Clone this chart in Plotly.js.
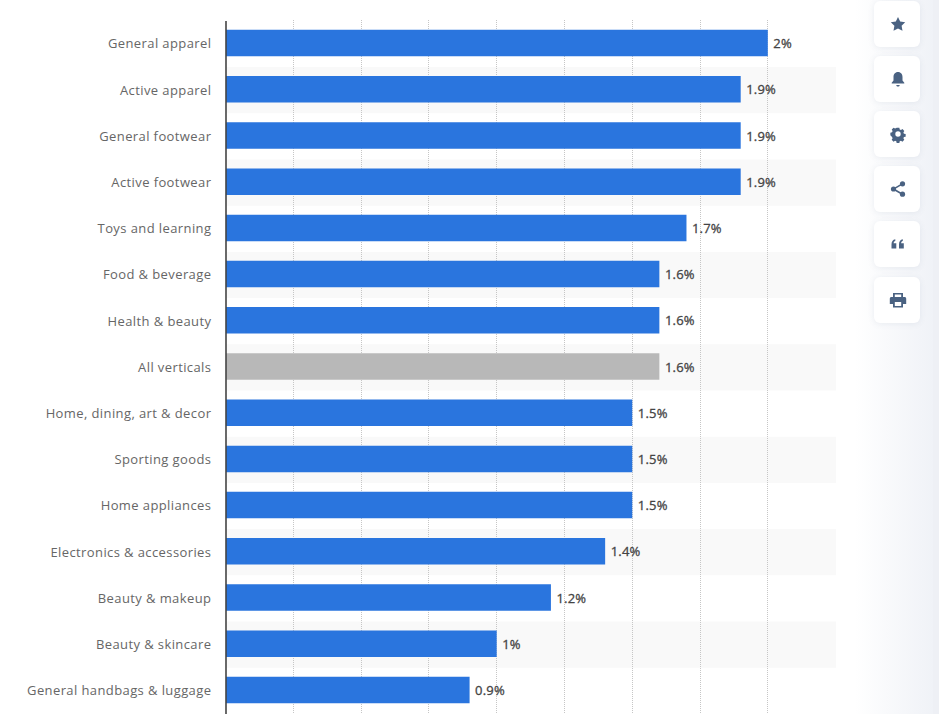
<!DOCTYPE html>
<html>
<head>
<meta charset="utf-8">
<script src="https://cdn.plot.ly/plotly-3.0.1.min.js"></script>
<style>
html,body{margin:0;padding:0;background:#fff;width:939px;height:714px;overflow:hidden}
#chart{position:absolute;left:0;top:0;width:939px;height:714px}
#rail{position:absolute;left:855px;top:0;width:78px;height:714px;background:linear-gradient(to right,rgba(236,239,245,0),rgba(236,239,245,.8) 100%)}
#edge{position:absolute;left:933px;top:0;width:6px;height:714px;background:#eef0f5}
.card{position:absolute;left:874px;width:46px;height:46px;background:#fff;border-radius:6px;box-shadow:0 1px 6px rgba(90,110,140,.10)}
.card svg{position:absolute;left:14px;top:13px;width:20px;height:20px;fill:#4a6282}
.ytick text{letter-spacing:.4px}
text.bartext{letter-spacing:.2px;stroke:#444;stroke-width:.3px}
</style>
</head>
<body>
<div id="chart"></div>
<div id="rail"></div><div id="edge"></div>
<div class="card" style="top:1px"><svg viewBox="0 0 20 20"><path d="M10 3l2.200 4.600 5 .7-3.600 3.500.9 5L10 14.400l-4.500 2.400.9-5L2.800 8.300l5-.7z"/></svg></div>
<div class="card" style="top:56px"><svg viewBox="0 0 20 20"><path d="M10 3c3 0 4.500 2.400 4.500 5v3.500l1.800 2.300v.7H3.700v-.7l1.800-2.300V8c0-2.600 1.500-5 4.500-5zM8.300 16h3.400c0 1-.8 1.500-1.700 1.500S8.300 17 8.300 16z"/></svg></div>
<div class="card" style="top:111px"><svg viewBox="0 0 20 20"><path fill-rule="evenodd" d="M8.500 3h3l.4 1.900 1.400.6 1.700-1 2 2.100-1 1.600.6 1.400 1.900.4v3l-1.900.4-.6 1.400 1 1.700-2.100 2-1.600-1-1.400.6-.4 1.900h-3l-.4-1.900-1.400-.6-1.700 1-2-2.100 1-1.600-.6-1.400L1.500 11.500v-3l1.900-.4.6-1.400-1-1.700 2.100-2 1.600 1 1.400-.6zM10 7a3 3 0 100 6 3 3 0 000-6z" transform="translate(1 1) scale(.9)"/></svg></div>
<div class="card" style="top:166px"><svg viewBox="0 0 20 20"><circle cx="14.500" cy="4.800" r="2.600"/><circle cx="5.500" cy="10" r="2.600"/><circle cx="14.500" cy="15.200" r="2.600"/><path d="M5 9.400l9-5.200.8 1.300-9 5.200zM5.800 9.300l9 5.200-.8 1.400-9-5.200z"/></svg></div>
<div class="card" style="top:221px"><svg viewBox="0 0 20 20"><path d="M3.500 10.500c0-3 1.300-4.700 3.800-5.200v1.800C6.200 7.500 5.700 8.200 5.600 9.200h2.700v5.300H3.500zM11 10.500c0-3 1.300-4.700 3.800-5.200v1.800c-1.100.4-1.600 1.100-1.700 2.100h2.700v5.300H11z"/></svg></div>
<div class="card" style="top:277px"><svg viewBox="0 0 20 20"><path fill-rule="evenodd" d="M5 3h10v4h1.500c1 0 1.700.7 1.700 1.700V14H15v3.500H5V14H1.800V8.700C1.800 7.700 2.500 7 3.500 7H5zm1.800 1.500V7h6.400V4.500zm0 7.500v4h6.400v-4z"/></svg></div>
<script>
var categories = ["General apparel","Active apparel","General footwear","Active footwear","Toys and learning","Food & beverage","Health & beauty","All verticals","Home, dining, art & decor","Sporting goods","Home appliances","Electronics & accessories","Beauty & makeup","Beauty & skincare","General handbags & luggage"];
var values = [2,1.9,1.9,1.9,1.7,1.6,1.6,1.6,1.5,1.5,1.5,1.4,1.2,1,0.9];
var highlightCategory = "All verticals";
var barColor = "#2a75de", highlightColor = "#b8b8b8";
var labels = values.map(function(v){return v+"%";});

var shapes = [];
categories.forEach(function(c,i){
  if(i%2===1) shapes.push({type:"rect",layer:"below",xref:"paper",x0:0,x1:1,yref:"y",y0:i-0.48,y1:i+0.52,fillcolor:"#f9f9f9",line:{width:0}});
});
shapes.push({type:"line",layer:"above",xref:"paper",x0:0,x1:0,yref:"paper",y0:-0.01,y1:0.9985,line:{color:"#444",width:1.6}});

Plotly.newPlot("chart",[{
  type:"bar",orientation:"h",
  y:categories,x:values,
  width:0.574,
  marker:{color:categories.map(function(c){return c===highlightCategory?highlightColor:barColor;})},
  text:labels,textposition:"outside",cliponaxis:false,
  textfont:{family:"'Open Sans',sans-serif",size:13,weight:500,color:"#444"},
  hoverinfo:"skip"
}],{
  width:939,height:714,
  margin:{l:226,r:103,t:20,b:1,pad:0},
  paper_bgcolor:"rgba(0,0,0,0)",plot_bgcolor:"rgba(0,0,0,0)",
  showlegend:false,
  xaxis:{range:[0.0015,2.2515],dtick:0.25,tick0:0,showticklabels:false,ticks:"",showgrid:true,gridcolor:"#c6c6c6",griddash:"1px,1px",gridwidth:1,zeroline:false,showline:false,fixedrange:true},
  yaxis:{type:"category",autorange:false,range:[14.5,-0.5],categoryorder:"array",categoryarray:categories,showgrid:false,zeroline:false,showline:false,ticks:"outside",ticklen:11,tickcolor:"rgba(0,0,0,0)",tickfont:{family:"'Open Sans',sans-serif",size:13,color:"#666"},fixedrange:true},
  shapes:shapes
},{staticPlot:true,displayModeBar:false}).then(function(){
  document.querySelectorAll("#chart text.bartext").forEach(function(t){t.setAttribute("dx","2.5");});
  document.querySelectorAll("#chart .ytick text").forEach(function(t){t.setAttribute("dy","0.7");});
});
</script>
</body>
</html>
